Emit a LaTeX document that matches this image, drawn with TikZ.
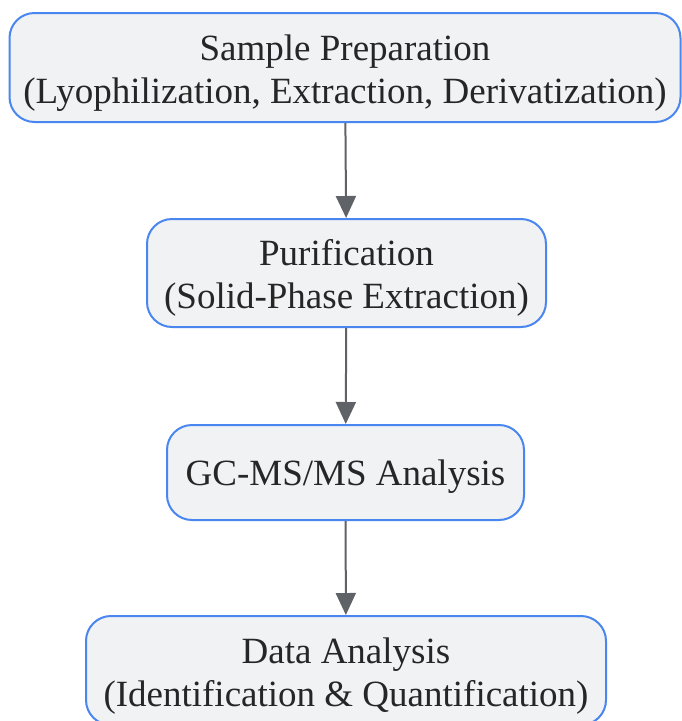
\documentclass[tikz,border=0pt]{standalone}
\usepackage{fontspec}
\setmainfont{Liberation Serif}
\usepackage{tikz}
\usetikzlibrary{arrows.meta,positioning}
\definecolor{stepfill}{HTML}{F1F2F4}
\definecolor{stepedge}{HTML}{4A86F0}
\definecolor{flowgray}{HTML}{5F6368}
\tikzset{stepbox/.style={draw=stepedge,fill=stepfill,line width=2pt,rounded corners=25pt,align=center,font=\fontsize{37}{43}\selectfont,text=black!85,inner sep=0pt,text depth=0pt,text height=71pt},
  oneline/.style={text height=25pt}}

\begin{document}
\begin{tikzpicture}[x=1pt,y=-1pt,>={Triangle[length=22pt,width=20pt]}]
    \useasboundingbox (0,0) rectangle (681,721);

    \node[stepbox,minimum width=671pt,minimum height=109pt] (prep) at (345,67.5) {Sample Preparation\\(Lyophilization, Extraction, Derivatization)};
    \node[stepbox,minimum width=399pt,minimum height=108pt] (purif) at (346.5,273) {Purification\\(Solid-Phase Extraction)};
    \node[stepbox,oneline,minimum width=357pt,minimum height=95pt] (gcms) at (345.5,472.5) {GC-MS/MS Analysis};
    \node[stepbox,minimum width=520pt,minimum height=109pt] (data) at (346,670.5) {Data Analysis\\(Identification \& Quantification)};

    \foreach \from/\to in {prep/purif,purif/gcms,gcms/data} {
      \draw[->,flowgray,line width=2pt] (\from) -- (\to);
    }
  \end{tikzpicture}
\end{document}
